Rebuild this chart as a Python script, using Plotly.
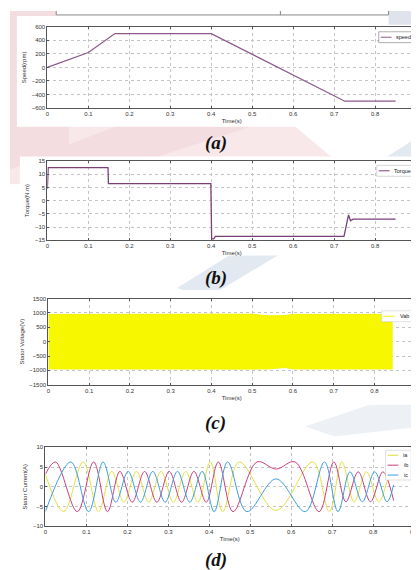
import plotly.graph_objects as go

W, H = 419, 570

# ---------------- data ----------------
# (a) rotor speed
speed_t = [0, 0.1, 0.165, 0.4, 0.726, 0.85]
speed_rpm = [0, 220, 500, 500, -500, -500]

# (b) electromagnetic torque
torque_t = [0, 0.002, 0.148, 0.149, 0.399, 0.401, 0.406, 0.41, 0.724, 0.731, 0.735, 0.74, 0.746, 0.85]
torque_nm = [4.5, 12.5, 12.5, 6.5, 6.5, -14.5, -14.5, -13.5, -13.5, -9.0, -5.4, -7.6, -7.0, -7.0]

# (c) PWM stator voltage: upper / lower envelope of the dense switching band
volt_t = [0, 0.1, 0.2, 0.3, 0.4, 0.5, 0.54, 0.58, 0.6, 0.7, 0.8, 0.845]
volt_hi = [950, 960, 950, 955, 960, 955, 900, 910, 950, 955, 950, 950]
volt_lo = [-950, -955, -950, -960, -950, -955, -950, -900, -950, -955, -950, -950]

# (d) three-phase stator currents: turning points
ia_t = [0, 0.0446, 0.0922, 0.1297, 0.1617, 0.1918, 0.2220, 0.2521, 0.2822, 0.3123, 0.3424, 0.3725,
        0.4024, 0.4329, 0.4732, 0.5630, 0.6528, 0.6931, 0.7236, 0.7535, 0.7836, 0.8137, 0.8438, 0.85]
ia_v = [3.2, -6.3, 6.3, -6.3, 3.9, -3.9, 3.9, -3.9, 3.9, -3.9, 3.9, -3.9,
        6.3, -6.3, 6.3, -6.0, 6.3, -6.3, 6.3, -3.8, 3.8, -3.8, 3.8, 3.0]
ib_t = [0, 0.0245, 0.0778, 0.1179, 0.1515, 0.1818, 0.2119, 0.2420, 0.2721, 0.3023, 0.3324, 0.3625, 0.3926,
        0.4220, 0.4580, 0.5166, 0.5630, 0.6094, 0.6680, 0.7040, 0.7334, 0.7635, 0.7936, 0.8237, 0.85]
ib_v = [3.2, 6.3, -6.3, 6.3, -6.3, 3.9, -3.9, 3.9, -3.9, 3.9, -3.9, 3.9, -3.9,
        6.3, -6.3, 6.3, 4.5, 6.3, -6.3, 6.3, -3.8, 3.8, -3.8, 3.8, -3.5]
ic_t = [0, 0.0621, 0.1055, 0.1409, 0.1718, 0.2019, 0.2320, 0.2621, 0.2922, 0.3223, 0.3524, 0.3826,
        0.4119, 0.4448, 0.4915, 0.5630, 0.6345, 0.6812, 0.7141, 0.7434, 0.7735, 0.8037, 0.8338, 0.85]
ic_v = [-6.3, 6.3, -6.3, 6.3, -3.9, 3.9, -3.9, 3.9, -3.9, 3.9, -3.9, 3.9,
        -6.3, 6.3, -6.3, 2.0, -6.3, 6.3, -6.3, 3.8, -3.8, 3.8, -3.8, 0.5]

x_ticks = [0, 0.1, 0.2, 0.3, 0.4, 0.5, 0.6, 0.7, 0.8, 0.9]
captions = ["(a)", "(b)", "(c)", "(d)"]

# ---------------- helpers ----------------
def px(x):
    return x / W

def py(y):
    return 1 - y / H

SMALL = "Liberation Sans, Arial"
TICKFONT = dict(family=SMALL, size=6, color="#333")

def xaxis(x0, x1, y_anchor):
    return dict(domain=[px(x0), px(x1)], range=[0, 0.9], anchor=y_anchor,
                tickvals=x_ticks, ticktext=[("%g" % v) for v in x_ticks],
                showline=True, linecolor="#555", linewidth=1, mirror="ticks",
                ticks="inside", ticklen=2, tickcolor="#555",
                showgrid=True, gridcolor="#c4c4c4", griddash="dot", gridwidth=1,
                zeroline=False, tickfont=TICKFONT,
                title=dict(text="Time(s)", font=dict(family=SMALL, size=6, color="#333"), standoff=2))

def yaxis(y0, y1, x_anchor, rng, dtick, title):
    return dict(domain=[py(y1), py(y0)], range=rng, anchor=x_anchor, dtick=dtick,
                showline=True, linecolor="#555", linewidth=1, mirror="ticks",
                ticks="inside", ticklen=2, tickcolor="#555",
                showgrid=True, gridcolor="#c4c4c4", griddash="dot", gridwidth=1,
                zeroline=False, tickfont=TICKFONT,
                title=dict(text=title, font=dict(family=SMALL, size=6, color="#333"), standoff=4))

fig = go.Figure()

SPEED_C = "#8c5a8c"
TORQUE_C = "#7a3f7a"
VOLT_C = "#f2f200"
IA_C, IB_C, IC_C = "#e2e040", "#c8407c", "#3c9ee0"

fig.add_trace(go.Scatter(x=speed_t, y=speed_rpm, mode="lines", name="speed",
                         line=dict(color=SPEED_C, width=1.3), xaxis="x", yaxis="y"))
fig.add_trace(go.Scatter(x=torque_t, y=torque_nm, mode="lines", name="Torque",
                         line=dict(color=TORQUE_C, width=1.3), xaxis="x2", yaxis="y2"))
fig.add_trace(go.Scatter(x=volt_t, y=volt_hi, mode="lines", name="Vab",
                         line=dict(color=VOLT_C, width=1), xaxis="x3", yaxis="y3"))
fig.add_trace(go.Scatter(x=volt_t, y=volt_lo, mode="lines", name="Vab", fill="tonexty",
                         fillcolor="#f7f700", line=dict(color=VOLT_C, width=1),
                         xaxis="x3", yaxis="y3"))
fig.add_trace(go.Scatter(x=ia_t, y=ia_v, mode="lines", name="ia", line=dict(color=IA_C, width=1, shape="spline"),
                         xaxis="x4", yaxis="y4"))
fig.add_trace(go.Scatter(x=ib_t, y=ib_v, mode="lines", name="ib", line=dict(color=IB_C, width=1, shape="spline"),
                         xaxis="x4", yaxis="y4"))
fig.add_trace(go.Scatter(x=ic_t, y=ic_v, mode="lines", name="ic", line=dict(color=IC_C, width=1, shape="spline"),
                         xaxis="x4", yaxis="y4"))

# ---------------- background (page, watermark, figure panels) ----------------
def rect(x0, y0, x1, y1, color, layer="below", border=None):
    return dict(type="rect", xref="paper", yref="paper", x0=px(x0), x1=px(x1), y0=py(y1), y1=py(y0),
                fillcolor=color, line=dict(width=0.6 if border else 0, color=border or color), layer=layer)

def poly(points, color):
    d = "M " + " L ".join("%.4f,%.4f" % (px(a), py(b)) for a, b in points) + " Z"
    return dict(type="path", xref="paper", yref="paper", path=d, fillcolor=color,
                line=dict(width=0), layer="below")

def seg(x0, y0, x1, y1, color, w=1, layer="below"):
    return dict(type="line", xref="paper", yref="paper", x0=px(x0), x1=px(x1), y0=py(y0), y1=py(y1),
                line=dict(color=color, width=w), layer=layer)

PINK = "#f4dde0"
PINK2 = "#f8e8ea"
BLUE = "#e3e9f0"
shapes = [
    poly([(0, 0), (150, 0), (330, 150), (260, 168), (0, 175)], PINK2),
    poly([(0, 0), (60, 0), (60, 140), (0, 160)], PINK),
    poly([(20, 150), (120, 112), (260, 112), (110, 160)], PINK),
    poly([(419, 125), (419, 160), (200, 290), (170, 280)], BLUE),
    poly([(419, 380), (419, 420), (330, 430), (300, 420)], "#edf1f5"),
    # figure panels
    rect(47, 0, 385, 5, "white"),
    rect(7, 5, 419, 117, "white"),
    rect(10, 147, 419, 247, "white"),
    rect(13, 282, 419, 398, "white"),
    rect(12, 430, 419, 540, "white"),
    rect(385, 0, 419, 14, "#dfe4ec"),
    # fragment of the previous figure at the very top
    seg(47, 4, 385, 4, "#888"),
    seg(47, 0, 47, 4, "#888"),
    seg(385, 0, 385, 4, "#888"),
    seg(275, 0, 275, 4, "#888"),
]

annotations = []

# compact MATLAB-style legends (box, line sample, label) for each panel
def legend_box(x0, y0, x1, y1, entries, border="#777"):
    shapes.append(rect(x0, y0, x1, y1, "white", layer="above", border=border))
    n = len(entries)
    row = (y1 - y0) / n
    for i, (name, color) in enumerate(entries):
        yc = y0 + row * (i + 0.5)
        shapes.append(seg(x0 + 2, yc, x0 + 13, yc, color, 1, layer="above"))
        annotations.append(dict(text=name, x=px(x1 - 1), y=py(yc), xref="paper", yref="paper",
                                showarrow=False, xanchor="right", yanchor="middle",
                                font=dict(family=SMALL, size=5.5, color="#222")))

legend_box(375, 21, 411, 32, [("speed", SPEED_C)])
legend_box(373, 156, 411, 167, [("Torque", TORQUE_C)], border="#bbb")
legend_box(378, 303, 409, 314, [("Vab", VOLT_C)], border="#ccc")
legend_box(382, 444, 408, 474, [("ia", IA_C), ("ib", IB_C), ("ic", IC_C)], border="#ccc")

CAP = dict(family="Liberation Serif, Times New Roman, serif", size=19, color="#111")
for c, yc in zip(captions, [133, 270, 416, 555]):
    annotations.append(dict(text="<b><i>%s</i></b>" % c, x=px(209), y=py(yc), xref="paper", yref="paper",
                            showarrow=False, font=CAP, xanchor="center", yanchor="middle"))

fig.update_layout(
    width=W, height=H, autosize=False,
    margin=dict(l=0, r=0, t=0, b=0),
    paper_bgcolor="white", plot_bgcolor="white",
    shapes=shapes, annotations=annotations,
    showlegend=False,
    xaxis=xaxis(38, 413, "y"),
    yaxis=yaxis(16, 98, "x", [-600, 600], 200, "Speed(rpm)"),
    xaxis2=xaxis(38, 413, "y2"),
    yaxis2=yaxis(151.7, 231.7, "x2", [-15, 15], 5, "Torque(N.m)"),
    xaxis3=xaxis(39, 412, "y3"),
    yaxis3=yaxis(290.7, 377.7, "x3", [-1500, 1500], 500, "Stator Voltage(V)"),
    xaxis4=xaxis(36, 411, "y4"),
    yaxis4=yaxis(441, 520.7, "x4", [-10, 10], 5, "Stator Current(A)"),
)

fig.write_html("out.html")
